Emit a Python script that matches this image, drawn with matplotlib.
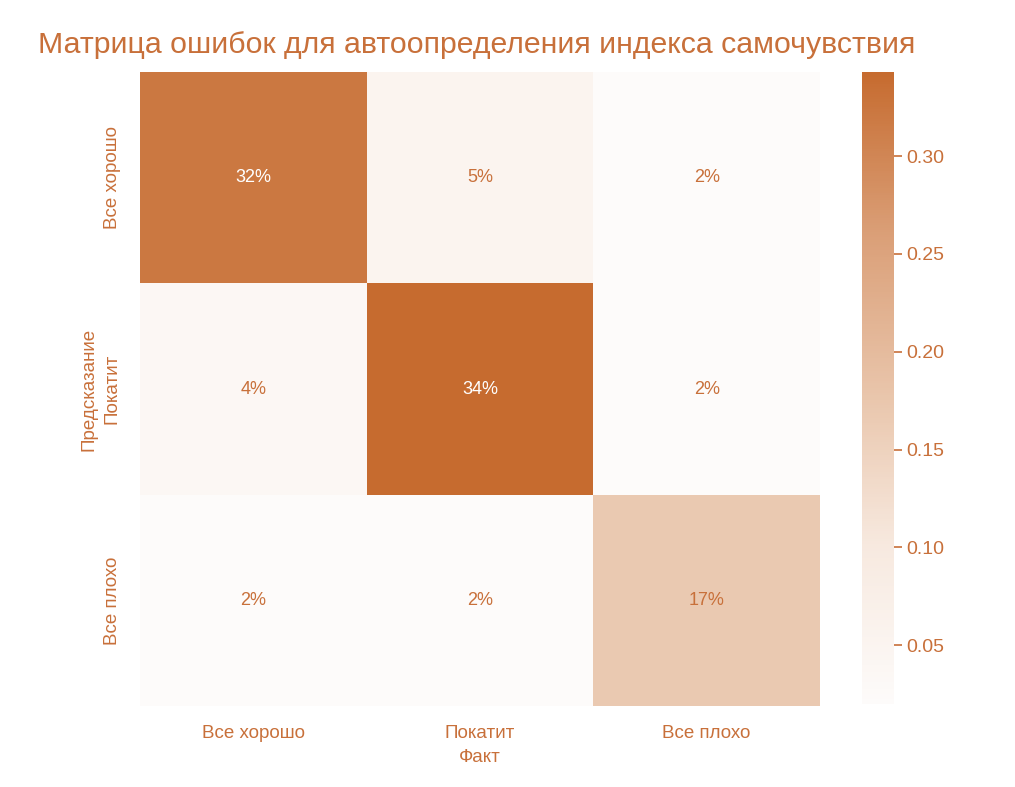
import numpy as np
import matplotlib
matplotlib.use("Agg")
import matplotlib.pyplot as plt
import seaborn as sns
from matplotlib.colors import LinearSegmentedColormap

categories = ["Все хорошо", "Покатит", "Все плохо"]
values = [
    [0.322, 0.052, 0.022],
    [0.040, 0.343, 0.022],
    [0.021, 0.020, 0.170],
]
title = "Матрица ошибок для автоопределения индекса самочувствия"
xlabel = "Факт"
ylabel = "Предсказание"

ORANGE = "#C8703A"
plt.rcParams["font.family"] = ["Liberation Sans", "DejaVu Sans"]

cmap = LinearSegmentedColormap.from_list(
    "or", [(0.0, "#FDFBFA"), (0.25, "#F7E9DF"), (0.47, "#EAC8AF"),
           (0.75, "#DA9E76"), (1.0, "#C66B2F")])

fig = plt.figure(figsize=(10.15, 7.87), dpi=100)
ax = fig.add_axes([140/1015, 1-706/787, 680/1015, 634/787])
cax = fig.add_axes([862/1015, 1-704/787, 32/1015, 632/787])

data = np.array(values)
sns.heatmap(data, ax=ax, cbar_ax=cax, cmap=cmap, annot=True, fmt=".0%",
            annot_kws={"fontsize": 13},
            xticklabels=categories, yticklabels=categories)

for t in ax.texts:
    r, g, b, a = matplotlib.colors.to_rgba(t.get_color())
    if r < 0.5:
        t.set_color(ORANGE)
    else:
        t.set_color("white")

ax.tick_params(length=0, labelsize=13.5, labelcolor=ORANGE, pad=14)
plt.setp(ax.get_yticklabels(), rotation=90, va="center")
ax.set_xlabel(xlabel, color=ORANGE, fontsize=13.5, labelpad=5)
ax.set_ylabel(ylabel, color=ORANGE, fontsize=13.5, labelpad=4)

cax.tick_params(labelsize=14, labelcolor=ORANGE, color=ORANGE, length=6, width=1.2, pad=3)
cax.set_yticks([0.05, 0.10, 0.15, 0.20, 0.25, 0.30])
cax.set_yticklabels(["0.05", "0.10", "0.15", "0.20", "0.25", "0.30"])
for s in cax.spines.values():
    s.set_visible(False)

fig.text(38/1015, 1-45/787, title, fontsize=21.8, color=ORANGE, va="center", ha="left")

fig.savefig("out.png", dpi=100, facecolor="white")
